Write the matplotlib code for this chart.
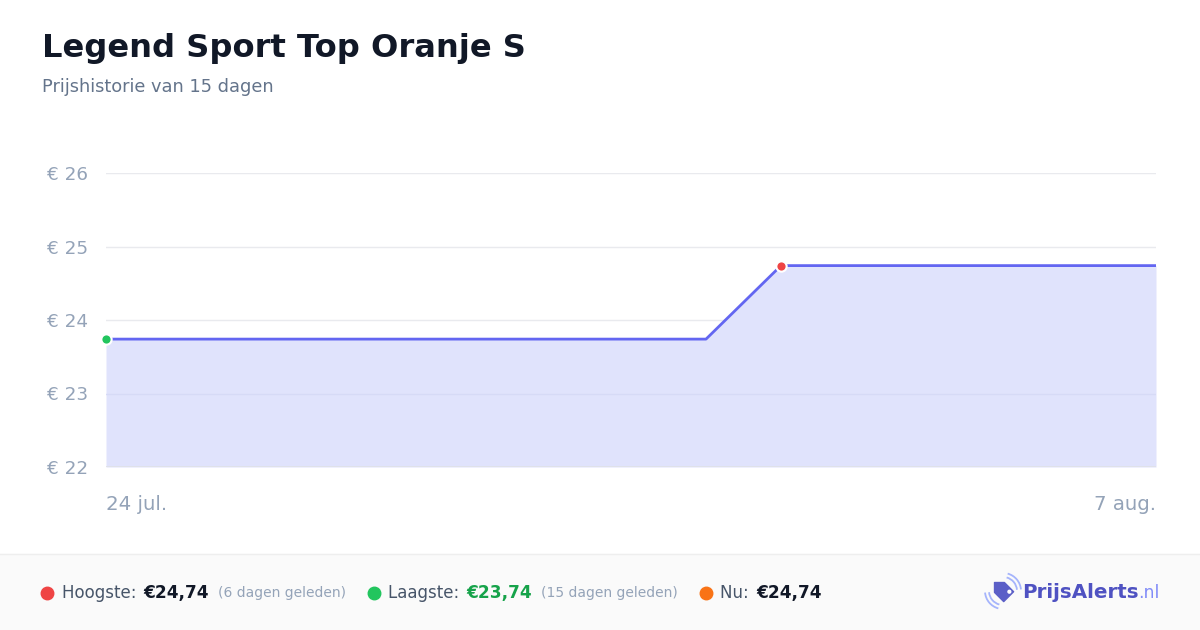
import matplotlib
matplotlib.use("Agg")
import matplotlib.pyplot as plt
import matplotlib.patches as mpatches
import numpy as np

# price history, 24 jul .. 7 aug (15 days)
days = list(range(15))
prices = [23.74, 23.74, 23.74, 23.74, 23.74, 23.74, 23.74, 23.74, 23.74,
          24.74, 24.74, 24.74, 24.74, 24.74, 24.74]
yticks = [22, 23, 24, 25, 26]
ytick_labels = ["€ 22", "€ 23", "€ 24", "€ 25", "€ 26"]
x_labels = ["24 jul.", "7 aug."]

title = "Legend Sport Top Oranje S"
subtitle = "Prijshistorie van 15 dagen"

W, H = 1200, 630
fig = plt.figure(figsize=(W / 100, H / 100), dpi=100)
fig.patch.set_facecolor("white")
plt.rcParams["font.family"] = ["DejaVu Sans"]

LINE = "#6366f1"
TICK = "#94a3b8"

# main plot area
ax = fig.add_axes([106 / W, 1 - 467 / H, 1050 / W, 294 / H])
ax.set_xlim(days[0], days[-1])
ax.set_ylim(22, 26)
ax.fill_between(days, prices, 22, color="#e0e3fc", lw=0, zorder=1)
ax.plot(days, prices, color=LINE, lw=2, zorder=3)
imax = 9  # first day of highest price
ax.scatter([days[0]], [prices[0]], s=55, color="#22c55e", edgecolor="white", lw=1.5, zorder=5, clip_on=False)
ax.scatter([days[imax]], [prices[imax]], s=55, color="#ef4444", edgecolor="white", lw=1.5, zorder=5, clip_on=False)
for y in yticks:
    if y == 22:
        ax.axhline(y, color="#dfe1e8", lw=1.3, zorder=2)
    elif y < 24:
        ax.axhline(y, color="#d6daf6", lw=1, zorder=2)
    else:
        ax.axhline(y, color="#e9eaee", lw=1, zorder=0)
ax.set_yticks(yticks)
ax.set_yticklabels(ytick_labels, color=TICK, fontsize=13.2)
ax.set_xticks([])
for s in ax.spines.values():
    s.set_visible(False)
ax.tick_params(axis="y", length=0, pad=13)
ax.set_facecolor("none")
ax.text(0, -0.095, x_labels[0], transform=ax.transAxes, ha="left", va="top", color=TICK, fontsize=14.2)
ax.text(1, -0.095, x_labels[1], transform=ax.transAxes, ha="right", va="top", color=TICK, fontsize=14.2)

# header
fig.text(42 / W, 1 - 48 / H, title, fontsize=23.1, fontweight="bold", color="#111827", va="center")
fig.text(42 / W, 1 - 87 / H, subtitle, fontsize=12.8, color="#64748b", va="center")

# footer band
fig.add_artist(mpatches.Rectangle((0, 0), 1, 76 / H, transform=fig.transFigure, color="#fafafa", zorder=0))
fig.add_artist(plt.Line2D([0, 1], [76 / H, 76 / H], transform=fig.transFigure, color="#eeeeee", lw=1))

renderer = fig.canvas.get_renderer()
fy = 1 - 593 / H


def put(x, s, **kw):
    t = fig.text(x / W, fy, s, va="center", **kw)
    bb = t.get_window_extent(renderer)
    return bb.x1


def marker(x, c):
    fig.add_artist(plt.Line2D([x / W], [fy], marker="o", ms=9, color=c, mec=c, transform=fig.transFigure))


marker(47, "#ef4444")
x = put(62, "Hoogste: ", fontsize=12, color="#475569")
x = put(x + 2, "€24,74", fontsize=12.2, fontweight="bold", color="#111827")
put(x + 9, "(6 dagen geleden)", fontsize=10, color="#94a3b8")

marker(374, "#22c55e")
x = put(388, "Laagste: ", fontsize=12, color="#475569")
x = put(x + 2, "€23,74", fontsize=12.2, fontweight="bold", color="#16a34a")
put(x + 9, "(15 dagen geleden)", fontsize=10, color="#94a3b8")

marker(706, "#f97316")
x = put(720, "Nu: ", fontsize=12, color="#475569")
put(x + 2, "€24,74", fontsize=12.2, fontweight="bold", color="#111827")

# logo: price tag with signal waves
lax = fig.add_axes([983 / W, 1 - 612 / H, 40 / W, 40 / H])
lax.set_xlim(0, 40)
lax.set_ylim(0, 40)
lax.axis("off")
tag = np.array([[-7, -8], [7, -8], [7, 5], [0, 12], [-7, 5]], dtype=float)
ang = np.deg2rad(45)
rot = np.array([[np.cos(ang), -np.sin(ang)], [np.sin(ang), np.cos(ang)]])
cx, cy = 20, 21
lax.add_patch(mpatches.Polygon(tag @ rot.T + [cx, cy], closed=True, color="#5b5fc7", joinstyle="round"))
hole = np.array([4.0, -5.0]) @ rot.T + [cx, cy]
lax.add_patch(mpatches.Circle(hole, 1.4, color="white"))
for r in [14, 18]:
    lax.add_patch(mpatches.Arc((cx, cy), r * 2, r * 2, theta1=5, theta2=75, color="#a5b4fc", lw=1.3))
    lax.add_patch(mpatches.Arc((cx, cy), r * 2, r * 2, theta1=185, theta2=255, color="#a5b4fc", lw=1.3))
x = put(1022, "PrijsAlerts", fontsize=14.3, fontweight="bold", color="#4f52c2")
put(x, ".nl", fontsize=12.5, color="#818cf8")

fig.savefig("out.png", dpi=100, facecolor="white")
